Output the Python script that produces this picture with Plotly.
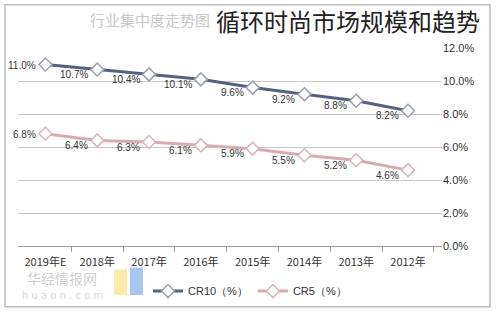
import plotly.graph_objects as go

years = ["2012年", "2013年", "2014年", "2015年", "2016年", "2017年", "2018年", "2019年E"]
cr10 = [8.2, 8.8, 9.2, 9.6, 10.1, 10.4, 10.7, 11.0]
cr5 = [4.6, 5.2, 5.5, 5.9, 6.1, 6.3, 6.4, 6.8]
y_ticks = [0, 2, 4, 6, 8, 10, 12]
y_labels = ["0.0%", "2.0%", "4.0%", "6.0%", "8.0%", "10.0%", "12.0%"]

fig = go.Figure()
fig.add_trace(go.Scatter(
    x=years, y=cr10, name="CR10（%）", mode="lines+markers",
    line=dict(color="#55627f", width=3),
    marker=dict(symbol="diamond", size=10, color="white", line=dict(color="#9aa0ad", width=1.5)),
))
fig.add_trace(go.Scatter(
    x=years, y=cr5, name="CR5（%）", mode="lines+markers",
    line=dict(color="#d9aab0", width=3),
    marker=dict(symbol="diamond", size=10, color="white", line=dict(color="#d9b5ba", width=1.5)),
))

for series in (cr10, cr5):
    for i, (yr, v) in enumerate(zip(years, series)):
        last = i == len(years) - 1
        fig.add_annotation(
            x=yr, y=v, text=f"{v:.1f}%", showarrow=False,
            xanchor="right", yanchor="middle",
            xshift=-7, yshift=-1 if last else -5,
            font=dict(size=10, color="#333333", family="Liberation Sans"),
        )

L, R, T, B = 18, 58, 48, 68
W, H = 500, 318
pw, ph = W - L - R, H - T - B

def px(x):
    return (x - L) / pw

def py(y):
    return (H - B - y) / ph

fig.update_layout(
    width=W, height=H,
    margin=dict(l=L, r=R, t=T, b=B),
    paper_bgcolor="white", plot_bgcolor="white",
    showlegend=True,
    legend=dict(orientation="h", x=px(250), y=py(296), xanchor="center", yanchor="middle",
                font=dict(size=11, color="#333333", family="Liberation Sans"), bgcolor="rgba(0,0,0,0)"),
    xaxis=dict(type="category", autorange="reversed", showgrid=False,
               showline=True, linecolor="#9a9a9a", linewidth=1,
               ticks="outside", tickson="boundaries", ticklen=5, tickcolor="#9a9a9a",
               tickangle=0, ticklabelstandoff=6,
               tickfont=dict(size=11, color="#333333", family="Noto Sans CJK SC")),
    yaxis=dict(side="right", range=[0, 12], tickvals=y_ticks, ticktext=y_labels,
               showgrid=True, gridcolor="#c8c8c8", gridwidth=1, zeroline=False,
               showline=False, ticks="",
               tickfont=dict(size=11, color="#333333", family="Liberation Sans")),
    font=dict(family="Noto Sans CJK SC"),
)

# outer frame
fig.add_shape(type="rect", xref="paper", yref="paper",
              x0=px(5), x1=px(490), y0=py(312), y1=py(4),
              line=dict(color="#bdbdbd", width=1.5), layer="below")

# faded original title
fig.add_annotation(text="行业集中度走势图", xref="paper", yref="paper",
                   x=px(212), y=py(19), xanchor="right", yanchor="middle", showarrow=False,
                   font=dict(size=15, color="#c8c8c8", family="Noto Sans CJK SC"))
# main title
fig.add_annotation(text="循环时尚市场规模和趋势", xref="paper", yref="paper",
                   x=px(214), y=py(20), xanchor="left", yanchor="middle", showarrow=False,
                   font=dict(size=24, color="#222222", family="Noto Sans CJK SC"))

# watermark
fig.add_shape(type="rect", xref="paper", yref="paper", x0=px(114), x1=px(127),
              y0=py(300), y1=py(274), fillcolor="rgba(250,220,110,0.6)", line=dict(width=0), layer="below")
fig.add_shape(type="rect", xref="paper", yref="paper", x0=px(130), x1=px(143),
              y0=py(300), y1=py(272), fillcolor="rgba(110,160,230,0.6)", line=dict(width=0), layer="below")
fig.add_annotation(text="华经情报网", xref="paper", yref="paper", x=px(62), y=py(283),
                   xanchor="center", yanchor="middle", showarrow=False,
                   font=dict(size=14, color="rgba(185,185,185,0.7)", family="Noto Sans CJK SC"))
fig.add_annotation(text="h u a o n . c o m", xref="paper", yref="paper", x=px(62), y=py(300),
                   xanchor="center", yanchor="middle", showarrow=False,
                   font=dict(size=10, color="rgba(195,195,195,0.7)", family="DejaVu Sans"))

fig.write_html("out.html")
